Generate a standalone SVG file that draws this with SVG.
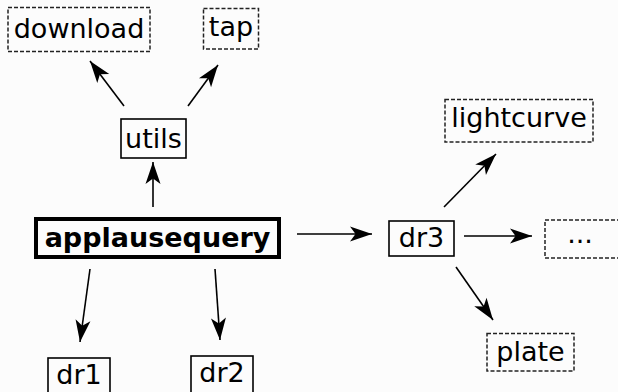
<svg xmlns="http://www.w3.org/2000/svg" width="618" height="392" viewBox="0 0 618 392">
  <defs>
    <marker id="arrow" markerUnits="userSpaceOnUse" markerWidth="26" markerHeight="18" viewBox="-23 -9 24 18" refX="0" refY="0" orient="auto">
      <path d="M0,0 L-22,-7.5 L-16.5,0 L-22,7.5 Z" fill="#000"/>
    </marker>
    <style>
      .box { fill: none; stroke: #000; stroke-width: 1.6; }
      .opt { fill: none; stroke: #222; stroke-width: 1.5; stroke-dasharray: 4 2; }
      .main { fill: none; stroke: #000; stroke-width: 4; }
      .lbl { font-family: "DejaVu Sans", sans-serif; font-size: 27px; fill: #000; text-anchor: middle; }
      .bold { font-weight: bold; }
      .edge { stroke: #000; stroke-width: 1.6; fill: none; marker-end: url(#arrow); }
    </style>
  </defs>
  <rect width="618" height="392" fill="#fcfcfc"/>

  <g id="connectors">
    <line class="edge" x1="124" y1="106" x2="90" y2="61"/>
    <line class="edge" x1="188" y1="106" x2="218" y2="65"/>
    <line class="edge" x1="153" y1="207" x2="153" y2="162"/>
    <line class="edge" x1="297" y1="234" x2="372" y2="234"/>
    <line class="edge" x1="90" y1="269" x2="80" y2="342"/>
    <line class="edge" x1="215" y1="269" x2="220" y2="340"/>
    <line class="edge" x1="444" y1="207" x2="496" y2="154"/>
    <line class="edge" x1="464" y1="236" x2="532" y2="236"/>
    <line class="edge" x1="456" y1="267" x2="493" y2="320"/>
  </g>

  <g id="download">
    <rect class="opt" x="8" y="7.5" width="142" height="44"/>
    <text class="lbl" x="79" y="38">download</text>
  </g>
  <g id="tap">
    <rect class="opt" x="203.5" y="8.5" width="55" height="40.5"/>
    <text class="lbl" x="231" y="36">tap</text>
  </g>
  <g id="utils">
    <rect class="box" x="121" y="119" width="65" height="39"/>
    <text class="lbl" x="153.5" y="148">utils</text>
  </g>
  <g id="applausequery">
    <rect class="main" x="36" y="219" width="243" height="38"/>
    <text class="lbl bold" x="157.5" y="247">applausequery</text>
  </g>
  <g id="dr1">
    <rect class="box" x="48" y="358" width="62" height="40"/>
    <text class="lbl" x="79" y="384">dr1</text>
  </g>
  <g id="dr2">
    <rect class="box" x="191" y="356" width="62" height="42"/>
    <text class="lbl" x="222" y="382">dr2</text>
  </g>
  <g id="dr3">
    <rect class="box" x="389" y="221" width="65" height="35"/>
    <text class="lbl" x="421.5" y="247">dr3</text>
  </g>
  <g id="lightcurve">
    <rect class="opt" x="445" y="99.5" width="148" height="42.5"/>
    <text class="lbl" x="519" y="127">lightcurve</text>
  </g>
  <g id="more">
    <rect class="opt" x="545" y="220" width="76" height="38"/>
    <text class="lbl" x="580" y="243">...</text>
  </g>
  <g id="plate">
    <rect class="opt" x="487" y="333.5" width="87" height="37.5"/>
    <text class="lbl" x="530.5" y="361">plate</text>
  </g>
</svg>
